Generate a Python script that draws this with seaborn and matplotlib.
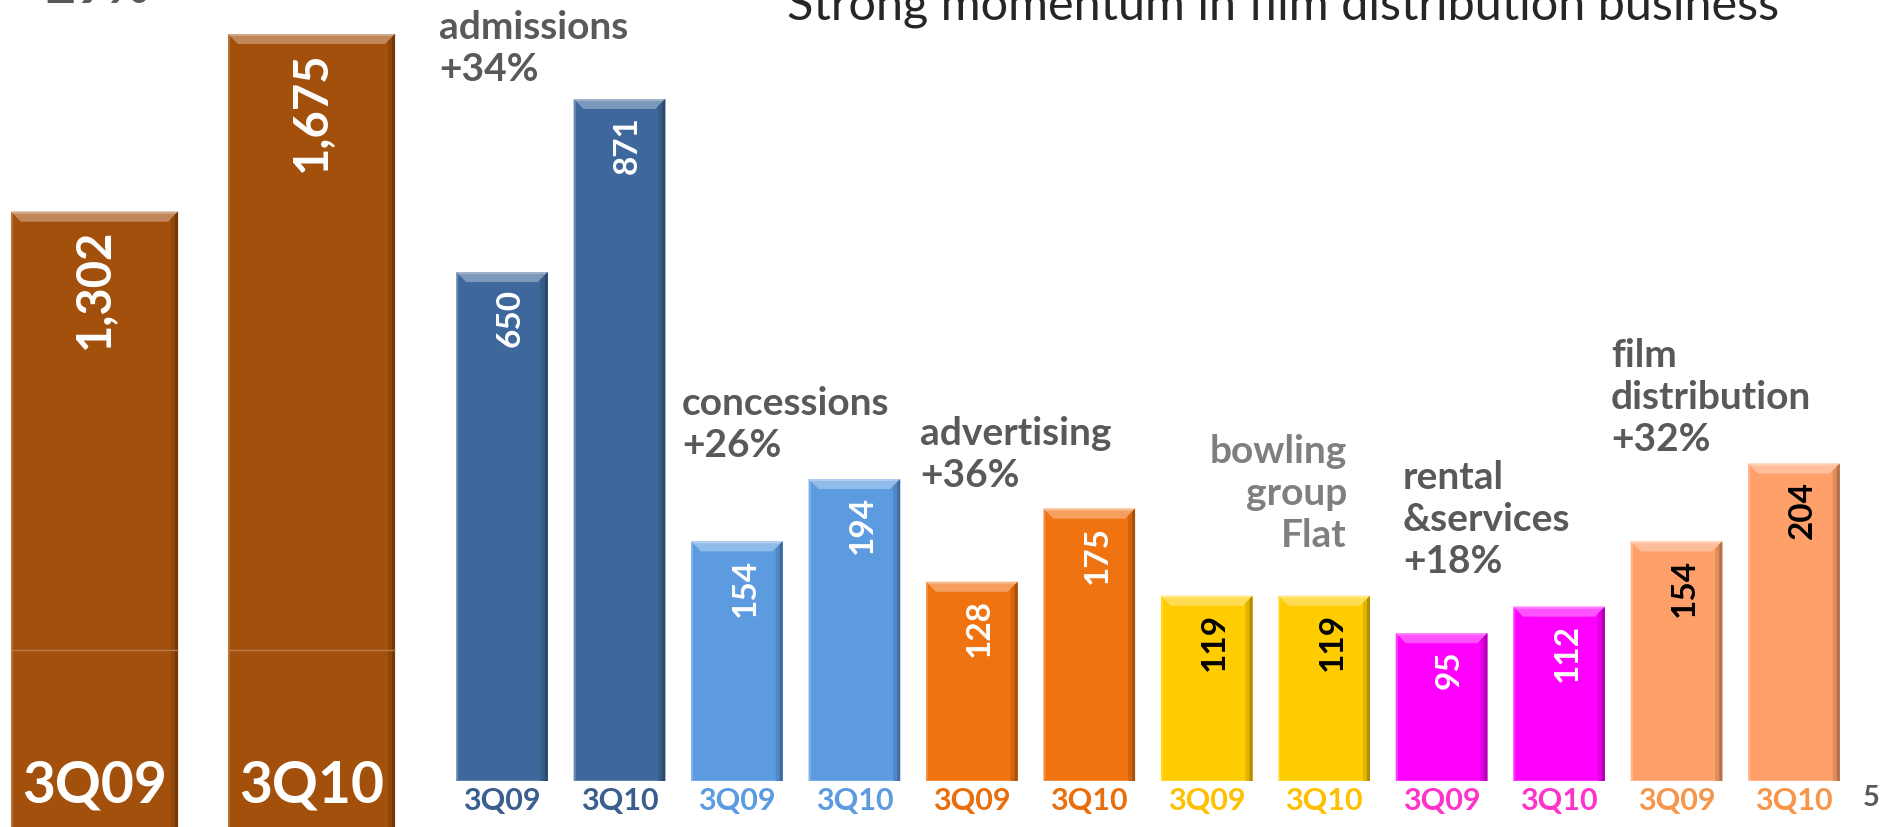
import numpy as np
import pandas as pd
import matplotlib
matplotlib.use("Agg")
import matplotlib.pyplot as plt
import matplotlib.colors as mcolors
from matplotlib.patches import Polygon
import seaborn as sns

# ---------------------------------------------------------------- data
total_periods = ["3Q09", "3Q10"]
total_values = [1302, 1675]
total_change = "+29%"

segments = ["admissions", "concessions", "advertising",
            "bowling group", "rental &services", "film distribution"]
periods = ["3Q09", "3Q10"]
values_3q09 = [650, 154, 128, 119, 95, 154]
values_3q10 = [871, 194, 175, 119, 112, 204]
segment_titles = [["admissions"], ["concessions"], ["advertising"],
                  ["bowling", "group"], ["rental", "&services"],
                  ["film", "distribution"]]
segment_changes = ["+34%", "+26%", "+36%", "Flat", "+18%", "+32%"]

title = "Strong momentum in film distribution business"
page_number = "5"

# ---------------------------------------------------------------- style
total_color = "#A3500D"
bar_colors = ["#3E689B", "#5C9BE0", "#F07312", "#FFCC00", "#FF00FF", "#FFA06A"]
tick_colors = ["#3A5F8E", "#5C9BE0", "#E96E0C", "#FFC000", "#FF33CC", "#F7964A"]
value_colors = ["white", "white", "white", "black", "white", "black"]
grey = "#595959"
light_grey = "#7F7F7F"

W, H, DPI = 1885, 827, 100

sns.set_theme(style="white")
plt.rcParams["font.family"] = ["Lato", "DejaVu Sans"]

fig = plt.figure(figsize=(W / DPI, H / DPI), dpi=DPI)
fig.patch.set_facecolor("white")


def px_axes(x0, x1, y_top, y_base):
    """Axes whose edges are given in pixels from the figure's top-left."""
    ax = fig.add_axes([x0 / W, 1 - y_base / H, (x1 - x0) / W, (y_base - y_top) / H])
    ax.set_facecolor("none")
    for s in ax.spines.values():
        s.set_visible(False)
    ax.set_yticks([])
    ax.set_ylabel("")
    ax.set_xlabel("")
    ax.set_axisbelow(False)
    return ax


def mix(color, other, t):
    c = np.array(mcolors.to_rgb(color))
    o = np.array(mcolors.to_rgb(other))
    return tuple(c + (o - c) * t)


def bevel(ax):
    """Soft bevel: light chamfered top, dark right rim, light left rim."""
    inv = ax.transData.inverted()
    for p in list(ax.patches):
        h = p.get_height()
        if not np.isfinite(h) or h <= 0:
            continue
        fc = p.get_facecolor()[:3]
        (x0, y0), (x1, y1) = ax.transData.transform(
            [(p.get_x(), p.get_y()), (p.get_x() + p.get_width(), p.get_y() + h)])
        d = 10
        shapes = [
            ([(x0, y1), (x1, y1), (x1 - d, y1 - d), (x0 + d, y1 - d)], mix(fc, "white", 0.32)),
            ([(x0, y1), (x1, y1), (x1 - 2, y1 - 2), (x0 + 2, y1 - 2)], mix(fc, "white", 0.5)),
            ([(x1 - 7, y0), (x1, y0), (x1, y1), (x1 - 7, y1 - 7)], mix(fc, "black", 0.12)),
            ([(x1 - 3, y0), (x1, y0), (x1, y1), (x1 - 3, y1 - 3)], mix(fc, "black", 0.3)),
            ([(x0, y0), (x0 + 2, y0), (x0 + 2, y1 - 2), (x0, y1)], mix(fc, "white", 0.2)),
        ]
        for pts, col in shapes:
            ax.add_patch(Polygon(inv.transform(pts), closed=True, facecolor=col,
                                 edgecolor="none", zorder=1.5))


# ---------------------------------------------------------------- totals
tot_pitch, tot_c0 = 217.0, 94.5
tot_scale, tot_base = 0.4764, 832.0
ax_tot = px_axes(0, 420, 0, tot_base)
df_tot = pd.DataFrame({"period": total_periods, "value": total_values})
sns.barplot(data=df_tot, x="period", y="value", color=total_color, saturation=1,
            width=0.77, ax=ax_tot)
ax_tot.set_xlim(-tot_c0 / tot_pitch, (420 - tot_c0) / tot_pitch)
ax_tot.set_ylim(0, tot_base / tot_scale)
ax_tot.set_xlabel("")
ax_tot.set_ylabel("")
bevel(ax_tot)
# faint segment seam across the stacked totals
for p in ax_tot.patches[:2]:
    ax_tot.hlines((tot_base - 650) / tot_scale, p.get_x(), p.get_x() + p.get_width(),
                  color=mix(total_color, "white", 0.25), lw=1, zorder=1.6)
for i, v in enumerate(total_values):
    ax_tot.annotate(f"{v:,}", xy=(i, v), xytext=(0, -17), textcoords="offset pixels",
                    rotation=90, ha="center", va="top", fontsize=34,
                    fontweight="bold", color="white", zorder=3)
ax_tot.set_xticks(range(len(total_periods)), total_periods)
ax_tot.tick_params(axis="x", length=0, pad=-52, labelsize=41, labelcolor="white")
for t in ax_tot.get_xticklabels():
    t.set_fontweight("bold")

# ---------------------------------------------------------------- segments
keys = [f"{s} {p}" for s in segments for p in periods]
vals = [v for pair in zip(values_3q09, values_3q10) for v in pair]
seg_of = [s for s in segments for _ in periods]
df = pd.DataFrame({"key": keys, "segment": seg_of,
                   "period": periods * len(segments), "value": vals})
palette = {k: bar_colors[segments.index(s)] for k, s in zip(keys, seg_of)}

pitch, c0, x_left = 117.45, 502.0, 430.0
base = 781.0
xlim = ((x_left - c0) / pitch, (W - c0) / pitch)

# admissions are drawn at half the scale of the other segments
ax_adm = px_axes(x_left, W, 0, base)
sns.barplot(data=df[df.segment == "admissions"], x="key", y="value", order=keys,
            hue="key", palette=palette, saturation=1, width=0.78, legend=False, ax=ax_adm)
ax_adm.set_xlim(*xlim)
ax_adm.set_ylim(0, base / 0.783)

ax_rest = px_axes(x_left, W, 0, base)
sns.barplot(data=df[df.segment != "admissions"], x="key", y="value", order=keys,
            hue="key", palette=palette, saturation=1, width=0.78, legend=False, ax=ax_rest)
ax_rest.set_xlim(*xlim)
ax_rest.set_ylim(0, base / 1.556)

for ax in (ax_adm, ax_rest):
    ax.set_xlabel("")
    ax.set_ylabel("")
    bevel(ax)

for i, (k, v, s) in enumerate(zip(keys, vals, seg_of)):
    ax = ax_adm if s == "admissions" else ax_rest
    ax.annotate(f"{v:,}", xy=(i, v), xytext=(8, -17), textcoords="offset pixels",
                rotation=90, ha="center", va="top", fontsize=24, fontweight="bold",
                color=value_colors[segments.index(s)], zorder=3)

ax_adm.set_xticks([])
ax_rest.set_xticks(range(len(keys)), periods * len(segments))
ax_rest.tick_params(axis="x", length=0, pad=4)
for t, s in zip(ax_rest.get_xticklabels(), seg_of):
    t.set_color(tick_colors[segments.index(s)])
    t.set_fontsize(22)
    t.set_fontweight("bold")

# ---------------------------------------------------------------- annotations
label_pos = [(439, 39, "left"), (682, 415, "left"), (920, 445, "left"),
             (1347, 463, "right"), (1403, 489, "left"), (1611, 367, "left")]
line_pitch = 42
for (x, y, ha), lines, chg, s in zip(label_pos, segment_titles, segment_changes, segments):
    col = light_grey if s == "bowling group" else grey
    for j, line in enumerate(lines + [chg]):
        fig.text(x / W, 1 - (y + j * line_pitch) / H, line, ha=ha, va="baseline",
                 fontsize=28, fontweight="bold", color=col)

fig.text(787 / W, 1 - 20 / H, title, ha="left", va="baseline", fontsize=35,
         color="#262626")
fig.text(150 / W, 1 - 3 / H, total_change, ha="right", va="baseline", fontsize=38,
         fontweight="bold", color=grey)
fig.text(1871 / W, 1 - 806 / H, page_number, ha="center", va="baseline", fontsize=21,
         fontweight="bold", color=grey)

fig.savefig("out.png", dpi=DPI, facecolor="white")
